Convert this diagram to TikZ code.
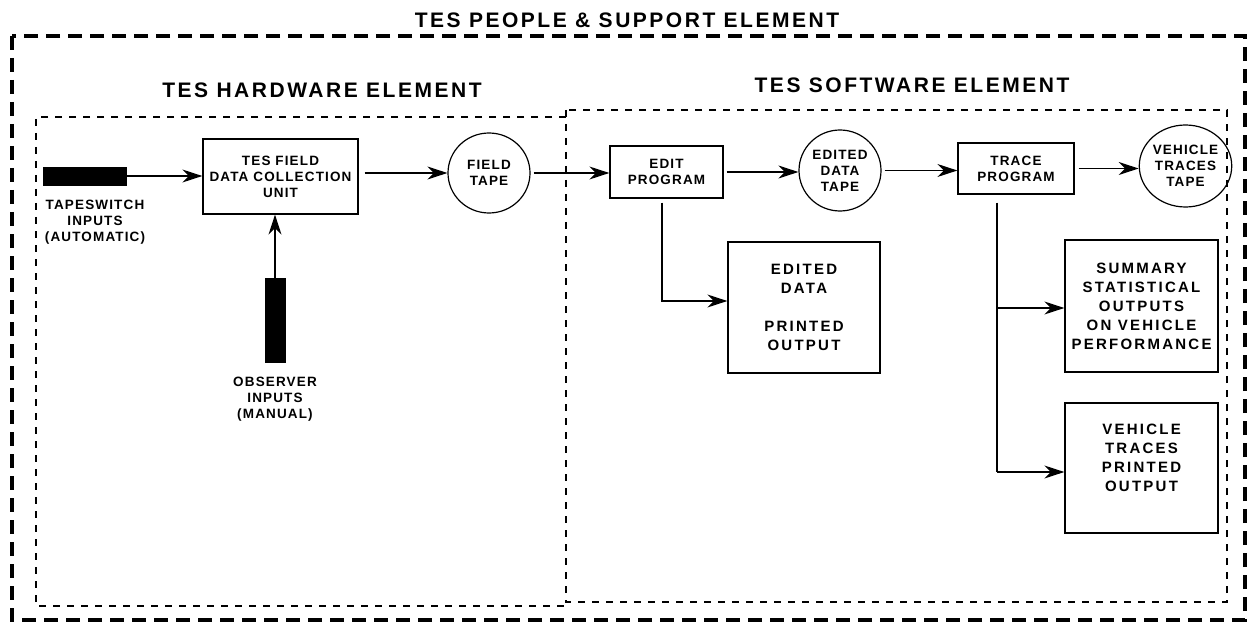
\documentclass[tikz,border=0pt]{standalone}
\usepackage{fontspec}
\setmainfont{Liberation Sans}
\newfontfamily\tesfont[LetterSpace=8.5]{Liberation Sans}
\newfontfamily\tesbigfont[LetterSpace=15]{Liberation Sans}
\newfontfamily\tesheadfont[LetterSpace=12]{Liberation Sans}
\usepackage{tikz}
\usetikzlibrary{arrows.meta, calc, positioning, shapes.geometric}

\begin{document}
\begin{tikzpicture}[x=1pt, y=-1pt, >={Stealth[length=20pt, width=13pt]},
  box/.style={draw, line width=1.3pt, align=center, inner sep=0pt,
    font=\tesfont\bfseries\fontsize{13.5}{16}\selectfont},
  bigbox/.style={draw, line width=1.3pt, align=center, inner sep=0pt,
    font=\tesbigfont\bfseries\fontsize{15}{19}\selectfont},
  tape/.style={draw, ellipse, line width=1.2pt, inner sep=0pt, align=center,
    font=\tesfont\bfseries\fontsize{13.5}{16}\selectfont},
  lbl/.style={align=center, inner sep=0pt, font=\tesfont\bfseries\fontsize{13.5}{16}\selectfont},
  biglbl/.style={align=center, inner sep=0pt, font=\tesbigfont\bfseries\fontsize{15}{19}\selectfont},
  bar/.style={fill=black, draw=black, inner sep=0pt},
  flow/.style={->, line width=1.2pt},
  outerdash/.style={line width=4.5pt, dash pattern=on 14pt off 8pt},
  innerdash/.style={line width=2.6pt, dash pattern=on 7pt off 7pt},
  head/.style={inner sep=0pt, anchor=base, font=\tesheadfont\bfseries\fontsize{21}{24}\selectfont}]
  \useasboundingbox (0,0) rectangle (1250,631);

  % element frames
  \draw[outerdash] (12,36) rectangle (1245,620);
  \draw[innerdash] (566,117) -- (36,117) -- (36,606) -- (566,606);
  \draw[innerdash] (566,110) rectangle (1227,602);
  \node[head] (people) at (627,28) {TES PEOPLE \& SUPPORT ELEMENT};
  \node[head] (hardware) at (322,98) {TES HARDWARE ELEMENT};
  \node[head] (software) at (912,93) {TES SOFTWARE ELEMENT};

  % hardware
  \node[bar, minimum width=83pt, minimum height=18pt] (tapesw) at (84.5,176) {};
  \node[lbl] (tapeswlbl) at (95,222) {TAPESWITCH\\INPUTS\\(AUTOMATIC)};
  \node[box, minimum width=155pt, minimum height=75pt] (dcu) at (280.5,176.5) {TES FIELD\\DATA COLLECTION\\UNIT};
  \node[bar, minimum width=20pt, minimum height=84pt] (observer) at (275,320) {};
  \node[lbl] (observerlbl) at (275,399) {OBSERVER\\INPUTS\\(MANUAL)};
  \node[tape, minimum width=82pt, minimum height=80pt] (fieldtape) at (489,173) {FIELD\\TAPE};

  % software
  \node[box, minimum width=113pt, minimum height=52pt] (edit) at (666.5,172) {EDIT\\PROGRAM};
  \node[tape, minimum width=82pt, minimum height=81pt] (edtape) at (840,170.5) {EDITED\\DATA\\TAPE};
  \node[box, minimum width=116pt, minimum height=51pt] (trace) at (1016,168.5) {TRACE\\PROGRAM};
  \node[tape, minimum width=83pt, minimum height=82pt] (vttape) at (1185.5,166) {VEHICLE\\TRACES\\TAPE};
  \node[bigbox, minimum width=152pt, minimum height=131pt] (editout) at (804,307.5) {EDITED\\DATA\\[19pt]PRINTED\\OUTPUT};
  \node[bigbox, minimum width=153pt, minimum height=132pt] (summary) at (1141.5,306) {SUMMARY\\STATISTICAL\\OUTPUTS\\ON VEHICLE\\PERFORMANCE};
  \node[bigbox, minimum width=153pt, minimum height=130pt] (traceout) at (1141.5,468) {};
  \node[biglbl] (traceoutlbl) at (1141.5,458) {VEHICLE\\TRACES\\PRINTED\\OUTPUT};

  % flow
  \draw[flow] (tapesw.east) -- (tapesw.east -| dcu.west);
  \draw[flow] (observer.north) -- (observer.north |- dcu.south);
  \draw[flow, shorten <=6pt] (fieldtape.west -| dcu.east) -- (fieldtape.west);
  \draw[flow, shorten <=3pt] (fieldtape.east) -- (fieldtape.east -| edit.west);
  \draw[flow, shorten <=3pt] (edit.east) -- (edit.east -| edtape.west);
  \draw[flow, shorten <=3pt] (edtape.east) -- (edtape.east -| trace.west);
  \draw[flow, shorten <=4pt] (trace.east) -- (trace.east -| vttape.west);
  \draw[flow] ([xshift=-4.5pt, yshift=-4pt]edit.south) |- ([yshift=6.5pt]editout.west);
  \coordinate (tracefork) at ([xshift=-19pt, yshift=-8pt]trace.south);
  \draw[line width=1.2pt] (tracefork) -- ([yshift=-4pt]tracefork |- traceout.west);
  \draw[flow] ([yshift=-2pt]tracefork |- summary.west) -- ([yshift=-2pt]summary.west);
  \draw[flow] ([yshift=-4pt]tracefork |- traceout.west) -- ([yshift=-4pt]traceout.west);
\end{tikzpicture}
\end{document}
